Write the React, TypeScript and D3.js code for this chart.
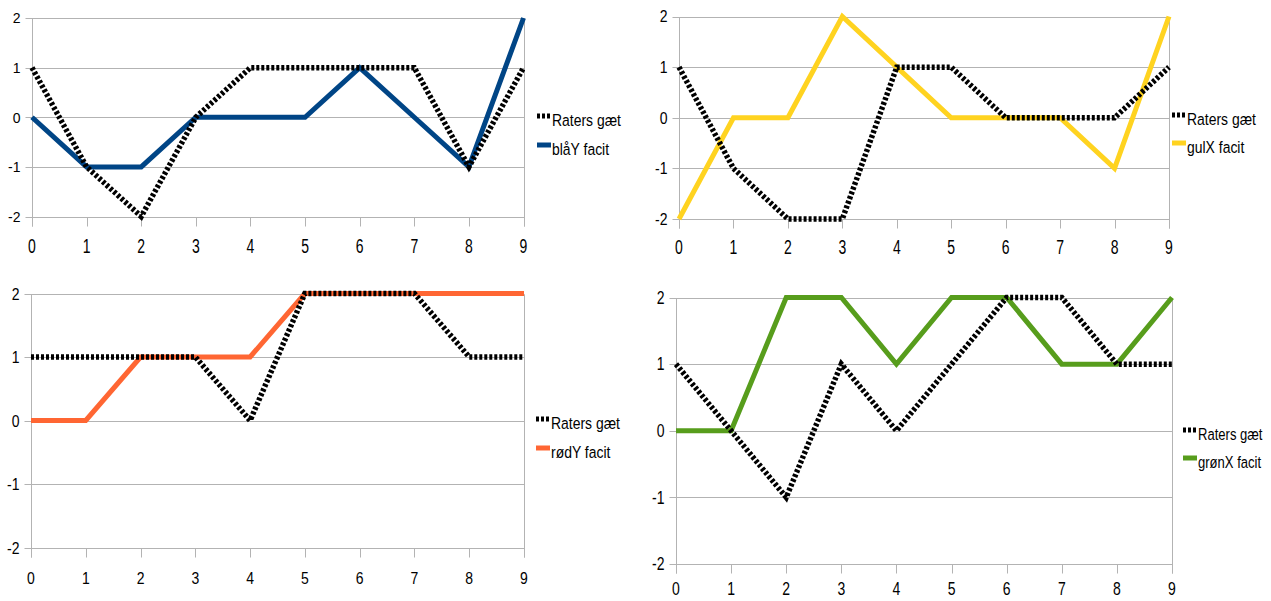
import React from 'react';
import * as d3 from 'd3';

// ---- data ----
const categories = [0, 1, 2, 3, 4, 5, 6, 7, 8, 9];
const yTickValues = [-2, -1, 0, 1, 2];
const guessLabel = 'Raters gæt';

const guessBlaaY = [1, -1, -2, 0, 1, 1, 1, 1, -1, 1];
const facitBlaaY = [0, -1, -1, 0, 0, 0, 1, 0, -1, 2];
const guessGulX = [1, -1, -2, -2, 1, 1, 0, 0, 0, 1];
const facitGulX = [-2, 0, 0, 2, 1, 0, 0, 0, -1, 2];
const guessRoedY = [1, 1, 1, 1, 0, 2, 2, 2, 1, 1];
const facitRoedY = [0, 0, 1, 1, 1, 2, 2, 2, 2, 2];
const guessGroenX = [1, 0, -1, 1, 0, 1, 2, 2, 1, 1];
const facitGroenX = [0, 0, 2, 2, 1, 2, 2, 1, 1, 2];

const facitNames = ['blåY facit', 'gulX facit', 'rødY facit', 'grønX facit'];
const facitColors = ['#004586', '#ffd320', '#ff6633', '#579d1c'];
const guessSeries = [guessBlaaY, guessGulX, guessRoedY, guessGroenX];
const facitSeries = [facitBlaaY, facitGulX, facitRoedY, facitGroenX];

// ---- layout (positions / styles) ----
const layouts = [
  { x0: 32, x1: 523.5, yTop: 18, yBot: 216.5, xLabY: 246, yLabSY: 1.05, xLabSY: 1.45, legX: 537, legY: [120, 149], legSX: 0.93, legSY: 1.05 },
  { x0: 679, x1: 1169, yTop: 16.5, yBot: 219, xLabY: 247, yLabSY: 1.15, xLabSY: 1.45, legX: 1172, legY: [119, 147], legSX: 0.93, legSY: 1.05 },
  { x0: 31, x1: 524, yTop: 293.5, yBot: 547.5, xLabY: 578, yLabSY: 1.2, xLabSY: 1.2, legX: 536, legY: [423, 452], legSX: 0.93, legSY: 1.1 },
  { x0: 676, x1: 1172, yTop: 297.5, yBot: 564, xLabY: 589, yLabSY: 1.25, xLabSY: 1.25, legX: 1183, legY: [434, 462], legSX: 0.87, legSY: 1.15 },
];

const GRID = '#b3b3b3';
const FONT = '"Liberation Sans", Arial, sans-serif';
const DOT = '3 2';

function Panel({ idx }: { idx: number }) {
  const L = layouts[idx];
  const x = d3.scaleLinear().domain([0, 9]).range([L.x0, L.x1]);
  const y = d3.scaleLinear().domain([-2, 2]).range([L.yBot, L.yTop]);
  const line = d3
    .line<number>()
    .x((_, i) => x(categories[i]))
    .y((d) => y(d))
    .curve(d3.curveLinear);
  const crisp = (v: number) => Math.round(v) + 0.5;
  const ax = crisp(x(0));
  const rx = crisp(x(9));
  const by = crisp(y(-2));
  return (
    <g>
      {yTickValues.map((t) => (
        <line key={'g' + t} x1={ax - 7} x2={rx} y1={crisp(y(t))} y2={crisp(y(t))} stroke={GRID} strokeWidth={1} />
      ))}
      <line x1={ax} x2={ax} y1={crisp(y(2))} y2={by + 9} stroke={GRID} strokeWidth={1} />
      <line x1={rx} x2={rx} y1={crisp(y(2))} y2={by + 9} stroke={GRID} strokeWidth={1} />
      {categories.map((c) => (
        <line key={'t' + c} x1={crisp(x(c))} x2={crisp(x(c))} y1={by} y2={by + 9} stroke={GRID} strokeWidth={1} />
      ))}
      {yTickValues.map((t) => (
        <text
          key={'yl' + t}
          transform={`translate(${ax - 12},${y(t)}) scale(1,${L.yLabSY})`}
          dy="0.36em"
          textAnchor="end"
          fontFamily={FONT}
          fontSize={14}
          fill="#000"
        >
          {t}
        </text>
      ))}
      {categories.map((c) => (
        <text
          key={'xl' + c}
          transform={`translate(${x(c)},${L.xLabY}) scale(1,${L.xLabSY})`}
          dy="0.36em"
          textAnchor="middle"
          fontFamily={FONT}
          fontSize={14}
          fill="#000"
        >
          {c}
        </text>
      ))}
      <path d={line(facitSeries[idx]) || ''} fill="none" stroke={facitColors[idx]} strokeWidth={5} strokeLinejoin="miter" />
      <path d={line(guessSeries[idx]) || ''} fill="none" stroke="#000" strokeWidth={5.5} strokeDasharray={DOT} />
      {/* legend */}
      <line x1={L.legX} x2={L.legX + 13} y1={L.legY[0] - 4} y2={L.legY[0] - 4} stroke="#000" strokeWidth={5} strokeDasharray={DOT} />
      <text
        transform={`translate(${L.legX + 15},${L.legY[0]}) scale(${L.legSX},${L.legSY})`}
        dy="0.36em"
        fontFamily={FONT}
        fontSize={15}
        fill="#000"
      >
        {guessLabel}
      </text>
      <line x1={L.legX} x2={L.legX + 14} y1={L.legY[1] - 4} y2={L.legY[1] - 4} stroke={facitColors[idx]} strokeWidth={5} />
      <text
        transform={`translate(${L.legX + 15},${L.legY[1]}) scale(${L.legSX},${L.legSY})`}
        dy="0.36em"
        fontFamily={FONT}
        fontSize={15}
        fill="#000"
      >
        {facitNames[idx]}
      </text>
    </g>
  );
}

export default function App() {
  return (
    <svg
      width={1271}
      height={601}
      style={{ position: 'absolute', left: 0, top: 0, background: '#fff' }}
    >
      <rect x={0} y={0} width={1271} height={601} fill="#fff" />
      {[0, 1, 2, 3].map((i) => (
        <Panel key={i} idx={i} />
      ))}
    </svg>
  );
}
